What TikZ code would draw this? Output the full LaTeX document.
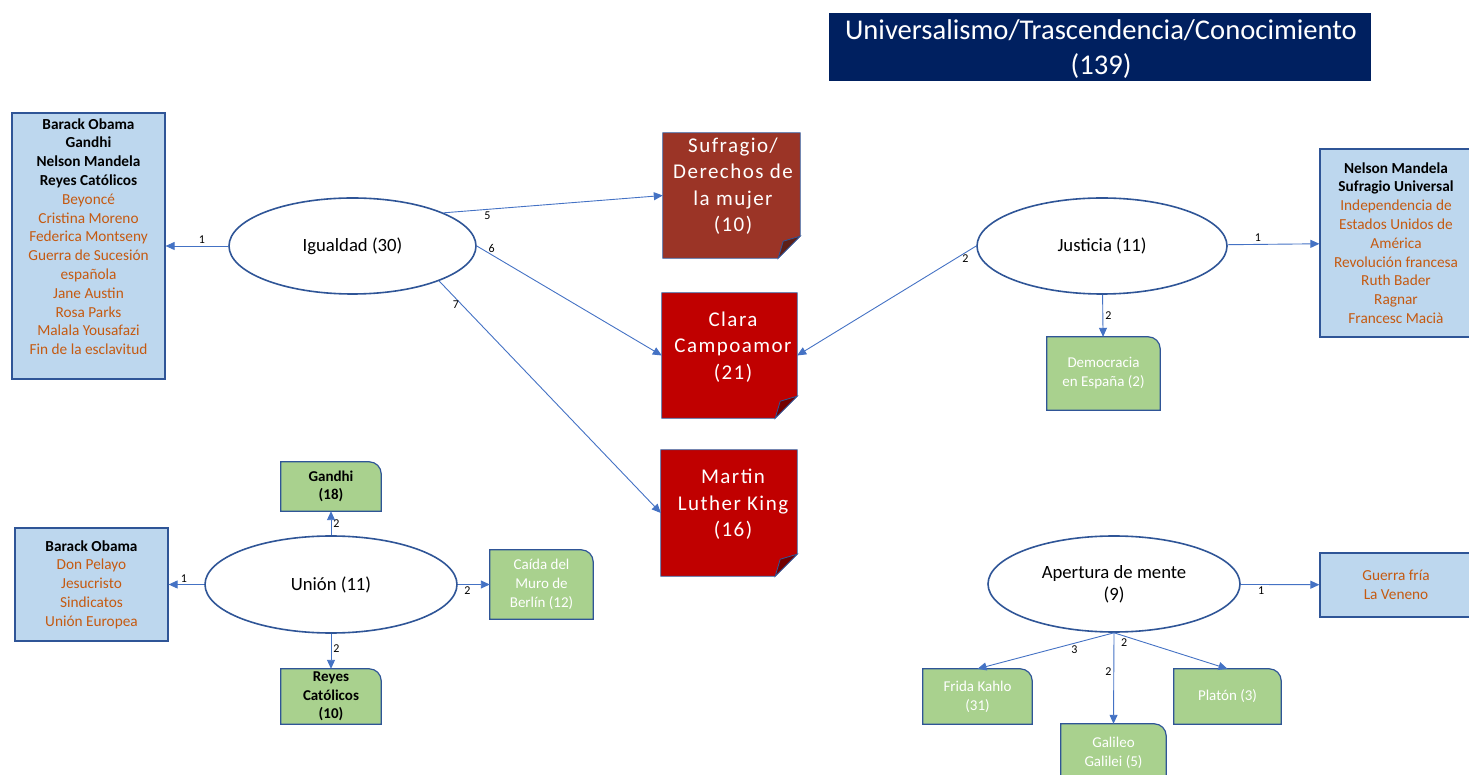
\documentclass[tikz,border=0pt]{standalone}
\usepackage{fontspec}
\setmainfont{Carlito}
\newfontfamily\spacedfont[LetterSpace=7]{Carlito}
\usetikzlibrary{arrows.meta, shapes.geometric, calc, backgrounds}

\definecolor{navy}{HTML}{002060}
\definecolor{rim}{HTML}{2F5597}
\definecolor{arrowblue}{HTML}{4472C4}
\definecolor{paleblue}{HTML}{BDD7EE}
\definecolor{leaf}{HTML}{A9D18E}
\definecolor{rust}{HTML}{9B3426}
\definecolor{crimson}{HTML}{C00000}
\definecolor{ochre}{HTML}{C55A11}

\newcommand{\keyname}[1]{\textbf{\textcolor{black}{#1}}}

\begin{document}
\begin{tikzpicture}[x=1pt, y=1pt,
	title/.style={fill=navy, draw=navy, inner sep=0pt},
	titletext/.style={text=white, align=center, inner sep=0pt, font=\fontsize{28.6}{35}\selectfont},
	valueoval/.style={ellipse, draw=rim, line width=1.6pt, fill=white, inner sep=0pt, align=center, font=\fontsize{18.7}{22}\selectfont},
	namelist/.style={draw=rim, line width=1.2pt, fill=paleblue, inner sep=0pt, align=center, text=ochre, font=\fontsize{15.3}{18.8}\selectfont},
	listtext/.style={align=center, inner sep=0pt, text=ochre, font=\fontsize{15.3}{18.8}\selectfont},
	note/.style={inner sep=0pt},
	notetext/.style={align=center, inner sep=0pt, text=white, font=\spacedfont\fontsize{21}{26.5}\selectfont},
	leafbox/.style={inner sep=0pt, align=center, text=white, font=\fontsize{15}{19}\selectfont},
	boldleaf/.style={leafbox, text=black, font=\fontsize{15}{18.5}\selectfont\bfseries},
	arrow/.style={draw=arrowblue, line width=0.9pt, -{Triangle[length=9pt, width=8pt]}},
	wnum/.style={font=\fontsize{12}{14}\selectfont, inner sep=2pt}
]
	\useasboundingbox (0,0) rectangle (1469,774);

	\node[title, minimum width=541, minimum height=67] (titulo) at (1099.5, 727.5) {};
	\node[titletext] (titulotext) at (1101, 724.5) {Universalismo/Trascendencia/Conocimiento\\(139)};

	\node[valueoval, minimum width=247, minimum height=96] (igualdad) at (352.5, 528) {Igualdad (30)};
	\node[valueoval, minimum width=250, minimum height=96] (justicia) at (1102, 528) {Justicia (11)};
	\node[valueoval, minimum width=252, minimum height=97] (union) at (331, 189.5) {Unión (11)};
	\node[valueoval, minimum width=252, minimum height=96] (apertura) at (1114, 190) {Apertura de mente\\(9)};

	\node[namelist, minimum width=153, minimum height=266] (igualdadlist) at (88.5, 528) {};
	\node[listtext] (igualdadnames) at (88.5, 537.5) {\keyname{Barack Obama}\\\keyname{Gandhi}\\\keyname{Nelson Mandela}\\\keyname{Reyes Católicos}\\Beyoncé\\Cristina Moreno\\Federica Montseny\\Guerra de Sucesión\\española\\Jane Austin\\Rosa Parks\\Malala Yousafazi\\Fin de la esclavitud};
	\node[namelist, minimum width=152, minimum height=188] (justicialist) at (1396, 531) {\keyname{Nelson Mandela}\\\keyname{Sufragio Universal}\\Independencia de\\Estados Unidos de\\América\\Revolución francesa\\Ruth Bader\\Ragnar\\Francesc Macià};
	\node[namelist, minimum width=153, minimum height=113] (unionlist) at (91.5, 189.5) {\keyname{Barack Obama}\\Don Pelayo\\Jesucristo\\Sindicatos\\Unión Europea};
	\node[namelist, minimum width=152, minimum height=64] (aperturalist) at (1396, 189) {Guerra fría\\La Veneno};

	\node[note, minimum width=137, minimum height=125] (sufragio) at (731.5, 578.5) {};
	\node[notetext] (sufragiotext) at (733, 588) {Sufragio/\\Derechos de\\la mujer\\(10)};
	\node[note, minimum width=135, minimum height=125] (clara) at (729.5, 418.5) {};
	\node[notetext] (claratext) at (733, 427) {Clara\\Campoamor\\(21)};
	\node[note, minimum width=136, minimum height=126] (martin) at (729, 261) {};
	\node[notetext] (martintext) at (733, 269.5) {Martin\\Luther King\\(16)};

	\node[leafbox, minimum width=113, minimum height=73] (democracia) at (1103.5, 400.5) {Democracia\\en España (2)};
	\node[boldleaf, minimum width=100, minimum height=49] (gandhi) at (331, 287.5) {Gandhi\\(18)};
	\node[boldleaf, minimum width=100, minimum height=55] (reyes) at (331, 77.5) {Reyes\\Católicos\\(10)};
	\node[leafbox, minimum width=103, minimum height=69] (caida) at (541.5, 189.5) {Caída del\\Muro de\\Berlín (12)};
	\node[leafbox, minimum width=109, minimum height=55] (frida) at (977.5, 77.5) {Frida Kahlo\\(31)};
	\node[leafbox, minimum width=105, minimum height=58] (galileo) at (1113.5, 21) {Galileo\\Galilei (5)};
	\node[leafbox, minimum width=107, minimum height=55] (platon) at (1227.5, 77.5) {Platón (3)};

	\begin{scope}[on background layer]
		\foreach \n/\c in {sufragio/rust, clara/crimson, martin/crimson} {
			\filldraw[fill=\c, draw=rim, line width=0.8pt] (\n.north west) -- (\n.north east) -- ($(\n.south east)+(0,22)$) -- ($(\n.south east)+(-22,0)$) -- (\n.south west) -- cycle;
			\filldraw[fill=\c!60!black, draw=rim, line width=0.8pt] ($(\n.south east)+(0,22)$) -- ($(\n.south east)+(-22,0)$) -- ($(\n.south east)+(-17,17)$) -- cycle;
		}
		\foreach \n in {democracia, gandhi, reyes, caida, frida, galileo, platon}
			\filldraw[fill=leaf, draw=rim, line width=1.2pt] (\n.south west) -- (\n.north west) -- ($(\n.north east)+(-12,0)$) arc[start angle=90, end angle=0, radius=12] -- (\n.south east) -- cycle;
	\end{scope}

	\draw[arrow] (igualdad) -- node[wnum, pos=0.42, above] {1} (igualdadlist);
	\draw[arrow] (igualdad.20) -- node[wnum, pos=0.2, below] {5} (sufragio.west);
	\draw[arrow] (igualdad.east) -- node[wnum, pos=0.08, above] {6} (clara.west);
	\draw[arrow] (igualdad.-22) -- node[wnum, pos=0.1, left] {7} (martin.west);
	\draw[arrow] (justicia.west) -- node[wnum, pos=0.06, below] {2} (clara.east);
	\draw[arrow] (justicia) -- node[wnum, pos=0.33, above] {1} (justicialist);
	\draw[arrow] (justicia) -- node[wnum, right] {2} (democracia);
	\draw[arrow] (union) -- node[wnum, pos=0.57, above] {1} (unionlist);
	\draw[arrow] (union) -- node[wnum, right] {2} (gandhi);
	\draw[arrow] (union) -- node[wnum, pos=0.42, right] {2} (reyes);
	\draw[arrow] (union) -- node[wnum, pos=0.3, below] {2} (caida);
	\draw[arrow] (apertura) -- node[wnum, pos=0.26, below] {1} (aperturalist);
	\draw[arrow] (apertura.south) -- node[wnum, pos=0.29, below] {3} (frida.north);
	\draw[arrow] (apertura.south) -- node[wnum, pos=0.43, left] {2} (galileo.north);
	\draw[arrow] (apertura.south) -- node[wnum, pos=0.09, below] {2} (platon.north);
\end{tikzpicture}
\end{document}
